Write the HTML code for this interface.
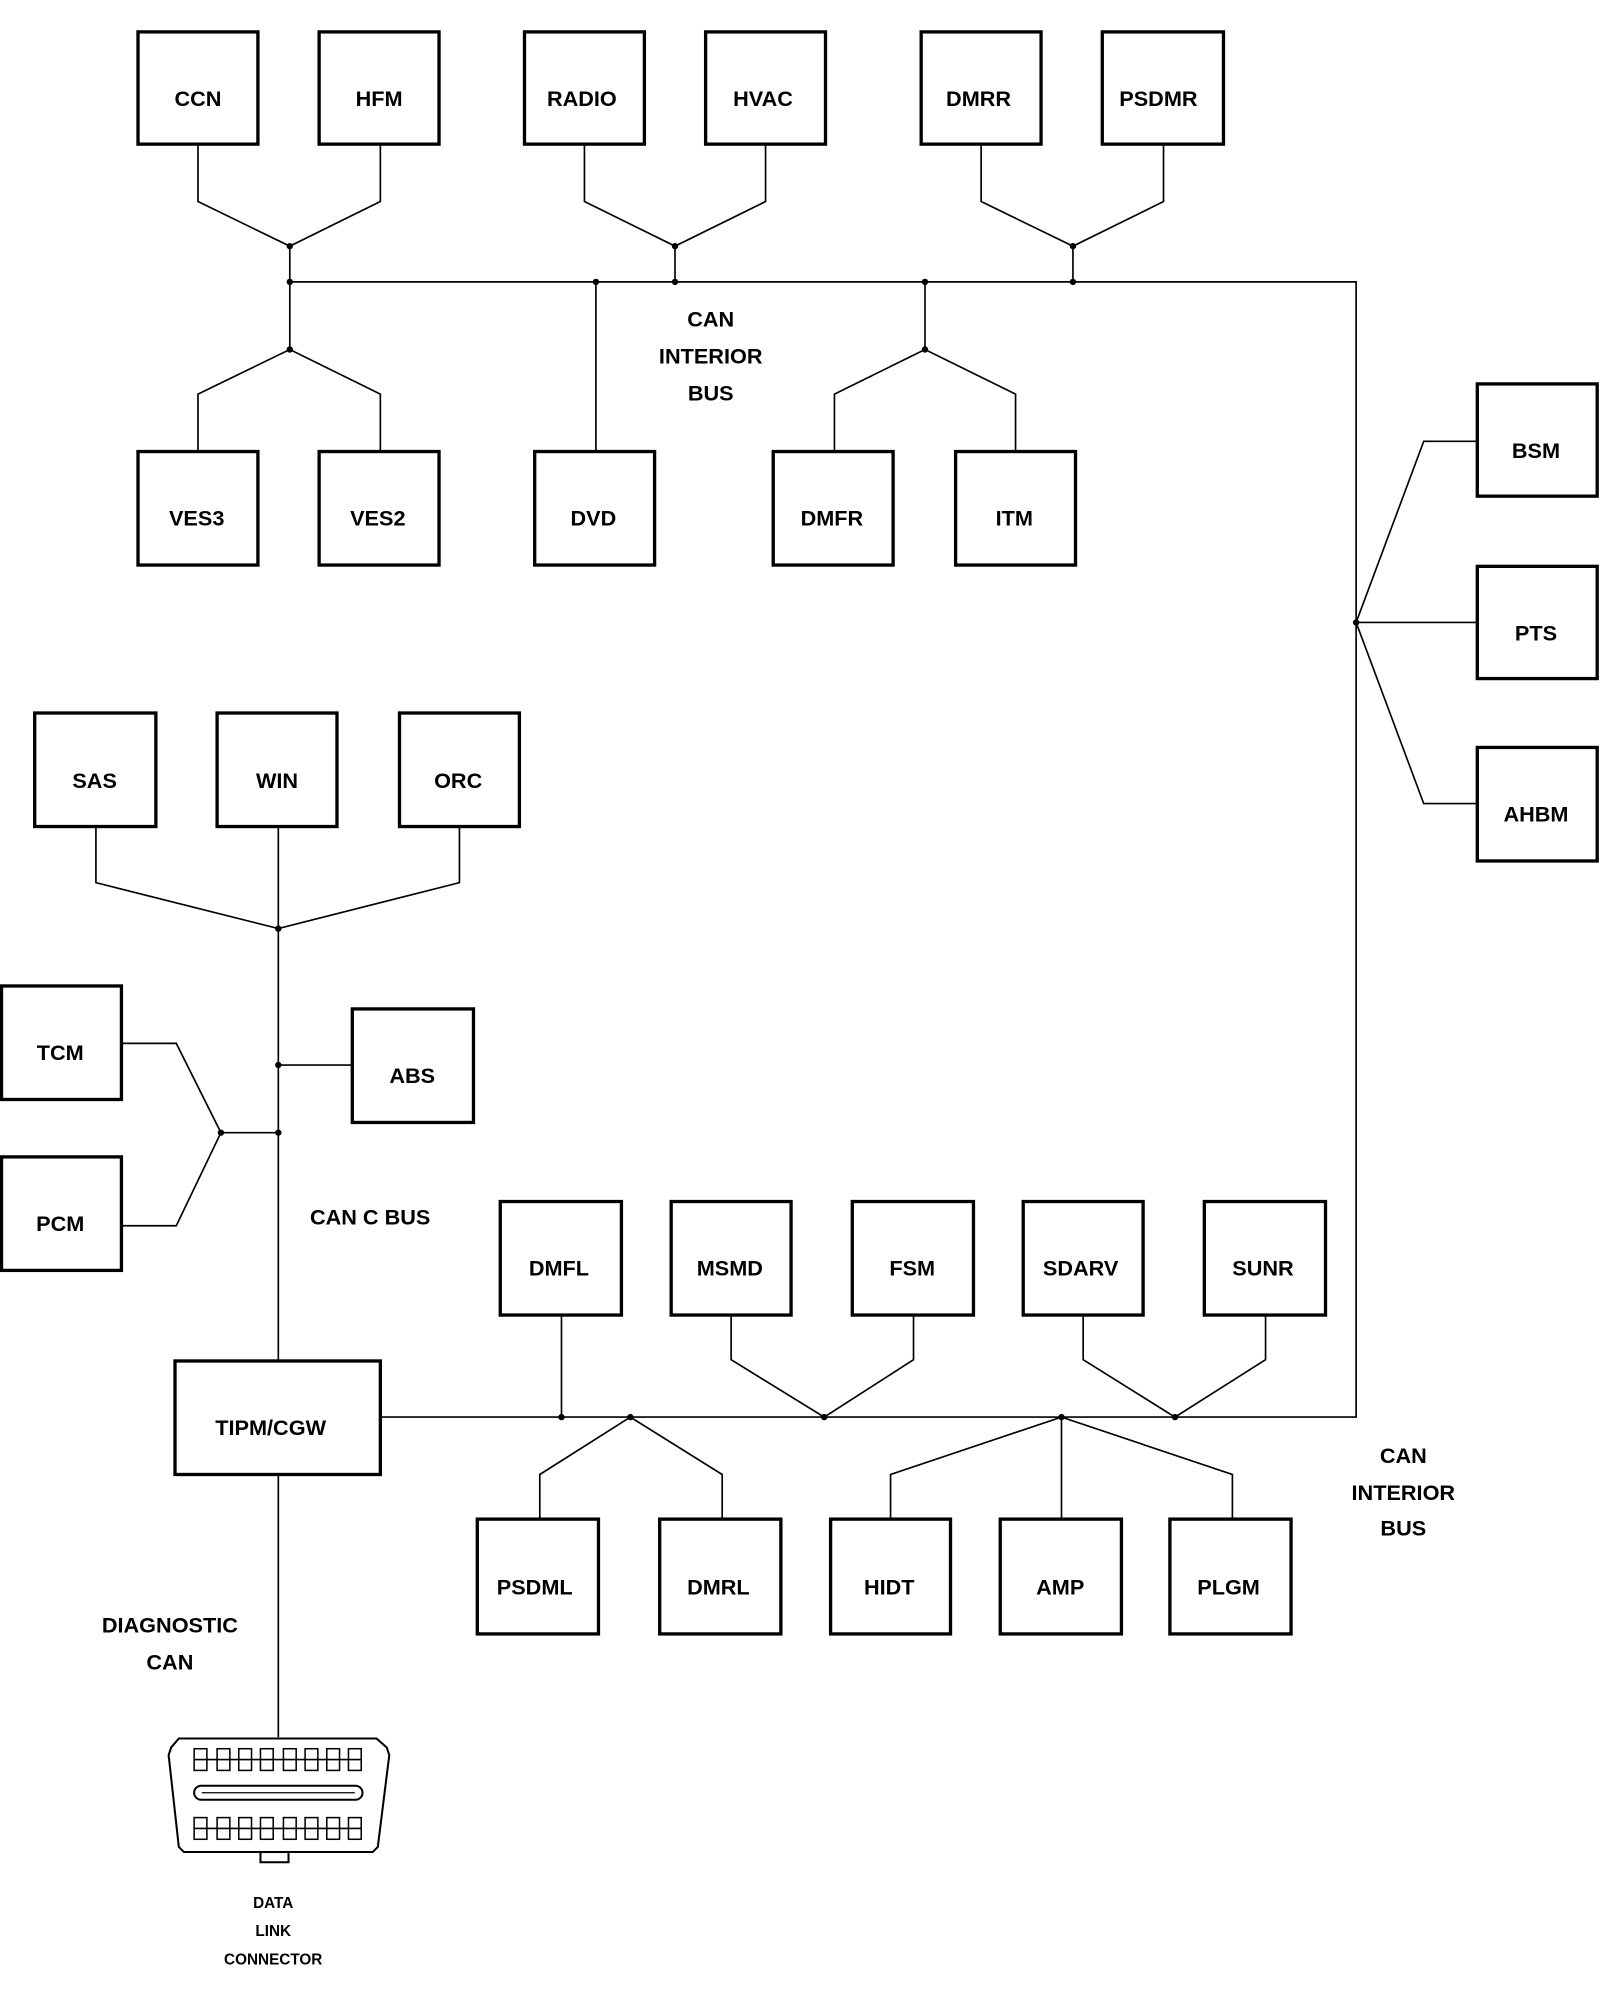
<!DOCTYPE html>
<html><head><meta charset="utf-8"><style>
html,body{margin:0;padding:0;background:#fff;}
svg{display:block;}
text{font-family:"Liberation Sans",Arial,sans-serif;font-weight:bold;font-size:17px;text-anchor:middle;fill:#000;}
.b{fill:#fff;stroke:#000;stroke-width:2.6;}
.l{fill:none;stroke:#000;stroke-width:1.3;}
</style></head><body>
<svg width="1600" height="2000" viewBox="0 0 1254 1568" xmlns="http://www.w3.org/2000/svg">
<rect width="1254" height="1568" fill="#fff"/>
<!-- lines -->
<g class="l">
<polyline points="155,113 155,158 227,193 298,158 298,113"/>
<polyline points="458,113 458,158 529,193 600,158 600,113"/>
<polyline points="769,113 769,158 841,193 912,158 912,113"/>
<line x1="227" y1="193" x2="227" y2="274"/>
<line x1="529" y1="193" x2="529" y2="221"/>
<line x1="841" y1="193" x2="841" y2="221"/>
<polyline points="227,221 1063,221 1063,1111 298,1111"/>
<polyline points="155,354 155,309 227,274 298,309 298,354"/>
<line x1="467" y1="221" x2="467" y2="354"/>
<line x1="725" y1="221" x2="725" y2="274"/>
<polyline points="654,354 654,309 725,274 796,309 796,354"/>
<polyline points="1158,346 1116,346 1063,488 1158,488"/>
<polyline points="1158,630 1116,630 1063,488"/>
<polyline points="75,648 75,692 218,728 360,692 360,648"/>
<line x1="218" y1="648" x2="218" y2="1067"/>
<line x1="218" y1="835" x2="276" y2="835"/>
<polyline points="95,818 138,818 173,888 138,961 95,961"/>
<line x1="173" y1="888" x2="218" y2="888"/>
<line x1="440" y1="1031" x2="440" y2="1111"/>
<polyline points="573,1031 573,1066 646,1111 716,1066 716,1031"/>
<polyline points="849,1031 849,1066 921,1111 992,1066 992,1031"/>
<polyline points="423,1191 423,1156 494,1111 566,1156 566,1191"/>
<polyline points="698,1191 698,1156 832,1111 966,1156 966,1191"/>
<line x1="832" y1="1111" x2="832" y2="1191"/>
<line x1="218" y1="1156" x2="218" y2="1362"/>
</g>
<!-- dots -->
<g fill="#000">
<circle cx="227" cy="193" r="2.5"/><circle cx="529" cy="193" r="2.5"/><circle cx="841" cy="193" r="2.5"/>
<circle cx="227" cy="221" r="2.5"/><circle cx="467" cy="221" r="2.5"/><circle cx="529" cy="221" r="2.5"/><circle cx="725" cy="221" r="2.5"/><circle cx="841" cy="221" r="2.5"/>
<circle cx="227" cy="274" r="2.5"/><circle cx="725" cy="274" r="2.5"/>
<circle cx="1063" cy="488" r="2.5"/>
<circle cx="218" cy="728" r="2.5"/><circle cx="218" cy="835" r="2.5"/><circle cx="218" cy="888" r="2.5"/><circle cx="173" cy="888" r="2.5"/>
<circle cx="440" cy="1111" r="2.5"/><circle cx="494" cy="1111" r="2.5"/><circle cx="646" cy="1111" r="2.5"/><circle cx="832" cy="1111" r="2.5"/><circle cx="921" cy="1111" r="2.5"/>
</g>
<!-- boxes -->
<g class="b">
<rect x="108" y="25" width="94" height="88"/><rect x="250" y="25" width="94" height="88"/>
<rect x="411" y="25" width="94" height="88"/><rect x="553" y="25" width="94" height="88"/>
<rect x="722" y="25" width="94" height="88"/><rect x="864" y="25" width="95" height="88"/>
<rect x="108" y="354" width="94" height="89"/><rect x="250" y="354" width="94" height="89"/>
<rect x="419" y="354" width="94" height="89"/><rect x="606" y="354" width="94" height="89"/>
<rect x="749" y="354" width="94" height="89"/>
<rect x="1158" y="301" width="94" height="88"/><rect x="1158" y="444" width="94" height="88"/><rect x="1158" y="586" width="94" height="89"/>
<rect x="27" y="559" width="95" height="89"/><rect x="170" y="559" width="94" height="89"/><rect x="313" y="559" width="94" height="89"/>
<rect x="1" y="773" width="94" height="89"/><rect x="1" y="907" width="94" height="89"/>
<rect x="276" y="791" width="95" height="89"/>
<rect x="137" y="1067" width="161" height="89"/>
<rect x="392" y="942" width="95" height="89"/><rect x="526" y="942" width="94" height="89"/><rect x="668" y="942" width="95" height="89"/><rect x="802" y="942" width="94" height="89"/><rect x="944" y="942" width="95" height="89"/>
<rect x="374" y="1191" width="95" height="90"/><rect x="517" y="1191" width="95" height="90"/><rect x="651" y="1191" width="94" height="90"/><rect x="784" y="1191" width="95" height="90"/><rect x="917" y="1191" width="95" height="90"/>
</g>
<!-- labels -->
<g>
<text x="155" y="83">CCN</text><text x="297" y="83">HFM</text><text x="456" y="83">RADIO</text><text x="598" y="83">HVAC</text><text x="767" y="83">DMRR</text><text x="908" y="83">PSDMR</text>
<text x="154" y="412">VES3</text><text x="296" y="412">VES2</text><text x="465" y="412">DVD</text><text x="652" y="412">DMFR</text><text x="795" y="412">ITM</text>
<text x="557" y="256">CAN</text><text x="557" y="285">INTERIOR</text><text x="557" y="314">BUS</text>
<text x="1204" y="359">BSM</text><text x="1204" y="502">PTS</text><text x="1204" y="644">AHBM</text>
<text x="74" y="618">SAS</text><text x="217" y="618">WIN</text><text x="359" y="618">ORC</text>
<text x="47" y="831">TCM</text><text x="47" y="965">PCM</text><text x="323" y="849">ABS</text>
<text x="290" y="960">CAN C BUS</text>
<text x="212" y="1125">TIPM/CGW</text>
<text x="438" y="1000">DMFL</text><text x="572" y="1000">MSMD</text><text x="715" y="1000">FSM</text><text x="847" y="1000">SDARV</text><text x="990" y="1000">SUNR</text>
<text x="419" y="1250">PSDML</text><text x="563" y="1250">DMRL</text><text x="697" y="1250">HIDT</text><text x="831" y="1250">AMP</text><text x="963" y="1250">PLGM</text>
<text x="1100" y="1147">CAN</text><text x="1100" y="1176">INTERIOR</text><text x="1100" y="1204">BUS</text>
<text x="133" y="1280">DIAGNOSTIC</text><text x="133" y="1309">CAN</text>
<text x="214" y="1496" style="font-size:12px">DATA</text><text x="214" y="1518" style="font-size:12px">LINK</text><text x="214" y="1540" style="font-size:12px">CONNECTOR</text>
</g>
<!-- connector -->
<g fill="none" stroke="#000" stroke-width="1.6">
<path d="M140,1363 L295,1363 L303,1370 L305,1376 L296,1448 L292,1452 L144,1452 L140,1448 L132,1376 L134,1370 Z"/>
<rect x="204" y="1452" width="22" height="8"/>
<rect x="152" y="1400" width="132" height="11" rx="5.5"/>
<line x1="158" y1="1405.5" x2="278" y2="1405.5" stroke-width="1"/>
<g stroke-width="1.2">
<rect x="152" y="1371" width="10" height="17"/><rect x="170" y="1371" width="10" height="17"/><rect x="187" y="1371" width="10" height="17"/><rect x="204" y="1371" width="10" height="17"/><rect x="222" y="1371" width="10" height="17"/><rect x="239" y="1371" width="10" height="17"/><rect x="256" y="1371" width="10" height="17"/><rect x="273" y="1371" width="10" height="17"/>
<rect x="152" y="1425" width="10" height="17"/><rect x="170" y="1425" width="10" height="17"/><rect x="187" y="1425" width="10" height="17"/><rect x="204" y="1425" width="10" height="17"/><rect x="222" y="1425" width="10" height="17"/><rect x="239" y="1425" width="10" height="17"/><rect x="256" y="1425" width="10" height="17"/><rect x="273" y="1425" width="10" height="17"/>
<path d="M152,1379.5h131M152,1433.5h131"/>
</g>
</g>
</svg>
</body></html>
